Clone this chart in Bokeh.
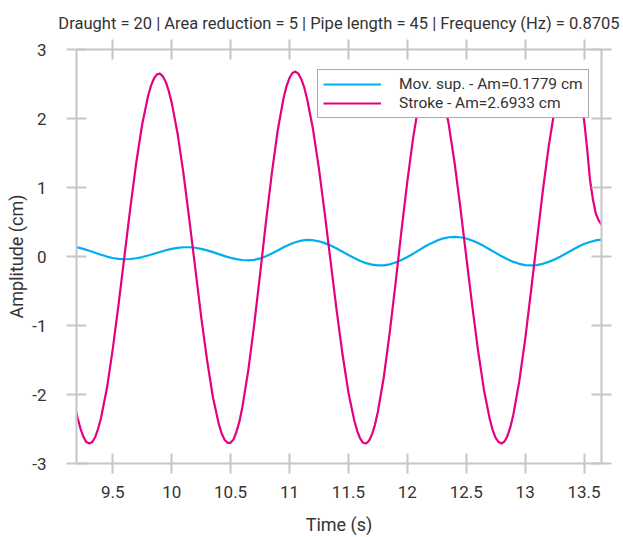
from bokeh.plotting import figure
from bokeh.models import (Range1d, LinearAxis, Legend, LegendItem, FixedTicker,
                          NumeralTickFormatter)
from bokeh.embed import file_html
from bokeh.resources import INLINE

# ---------------- data ----------------
# Mov. sup. series
time_s = [9.19, 9.20, 9.25, 9.30, 9.35, 9.40, 9.45, 9.50, 9.55, 9.60, 9.65, 9.70,
          9.75, 9.80, 9.85, 9.90, 9.95, 10.00, 10.05, 10.10, 10.15, 10.20, 10.25,
          10.30, 10.35, 10.40, 10.45, 10.50, 10.55, 10.60, 10.65, 10.70, 10.75,
          10.80, 10.85, 10.90, 10.95, 11.00, 11.05, 11.10, 11.15, 11.20, 11.25,
          11.30, 11.35, 11.40, 11.45, 11.50, 11.55, 11.60, 11.65, 11.70, 11.75,
          11.80, 11.85, 11.90, 11.95, 12.00, 12.05, 12.10, 12.15, 12.20, 12.25,
          12.30, 12.35, 12.40, 12.45, 12.50, 12.55, 12.60, 12.65, 12.70, 12.75,
          12.80, 12.85, 12.90, 12.95, 13.00, 13.05, 13.10, 13.15, 13.20, 13.25,
          13.30, 13.35, 13.40, 13.45, 13.50, 13.55, 13.60, 13.65]

mov_sup = [0.135, 0.132, 0.111, 0.084, 0.055, 0.026, -0.001, -0.022, -0.035, -0.040,
           -0.036, -0.025, -0.008, 0.015, 0.040, 0.066, 0.090, 0.110, 0.125, 0.134,
           0.134, 0.127, 0.111, 0.089, 0.063, 0.034, 0.006, -0.019, -0.038, -0.051,
           -0.055, -0.048, -0.028, 0.004, 0.044, 0.088, 0.133, 0.174, 0.207, 0.230,
           0.240, 0.236, 0.220, 0.194, 0.158, 0.116, 0.069, 0.022, -0.023, -0.064,
           -0.096, -0.118, -0.129, -0.128, -0.114, -0.088, -0.052, -0.008, 0.041,
           0.093, 0.144, 0.190, 0.230, 0.260, 0.279, 0.285, 0.279, 0.261, 0.233,
           0.195, 0.151, 0.102, 0.053, 0.004, -0.040, -0.078, -0.106, -0.124, -0.130,
           -0.124, -0.106, -0.078, -0.042, 0.001, 0.048, 0.095, 0.140, 0.180, 0.211,
           0.233, 0.244]

# Stroke series (denser sampling around the peaks)
time_stroke = [9.19, 9.20, 9.225, 9.25, 9.275, 9.30, 9.325, 9.35, 9.375, 9.40,
               9.45, 9.50, 9.55, 9.60, 9.65, 9.70, 9.75, 9.80, 9.825, 9.85,
               9.875, 9.90, 9.925, 9.95, 9.975, 10.00, 10.05, 10.10, 10.15, 10.20,
               10.25, 10.30, 10.35, 10.40, 10.425, 10.45, 10.475, 10.50, 10.525, 10.55,
               10.575, 10.60, 10.65, 10.70, 10.75, 10.80, 10.85, 10.90, 10.95, 10.975,
               11.00, 11.025, 11.05, 11.075, 11.10, 11.125, 11.15, 11.20, 11.25, 11.30,
               11.35, 11.40, 11.45, 11.50, 11.55, 11.575, 11.60, 11.625, 11.65, 11.675,
               11.70, 11.725, 11.75, 11.80, 11.85, 11.90, 11.95, 12.00, 12.05, 12.10,
               12.125, 12.15, 12.175, 12.20, 12.225, 12.25, 12.275, 12.30, 12.35, 12.40,
               12.45, 12.50, 12.55, 12.60, 12.65, 12.70, 12.725, 12.75, 12.775, 12.80,
               12.825, 12.85, 12.875, 12.90, 12.95, 13.00, 13.05, 13.10, 13.15, 13.20,
               13.25, 13.30, 13.325, 13.35, 13.375, 13.40, 13.425, 13.45, 13.475, 13.50,
               13.525, 13.55, 13.575, 13.60, 13.625, 13.65]

stroke = [-2.25, -2.33, -2.49, -2.61, -2.69, -2.71, -2.69, -2.62, -2.50, -2.34,
          -1.91, -1.34, -0.68, 0.02, 0.72, 1.37, 1.92, 2.33, 2.48, 2.58,
          2.64, 2.65, 2.61, 2.53, 2.40, 2.23, 1.78, 1.20, 0.53, -0.17,
          -0.87, -1.50, -2.04, -2.43, -2.57, -2.66, -2.70, -2.70, -2.65, -2.54,
          -2.39, -2.18, -1.65, -0.99, -0.26, 0.50, 1.21, 1.83, 2.30, 2.47,
          2.59, 2.66, 2.68, 2.65, 2.57, 2.45, 2.28, 1.84, 1.27, 0.61,
          -0.09, -0.78, -1.42, -1.97, -2.38, -2.53, -2.64, -2.70, -2.71, -2.67,
          -2.58, -2.44, -2.25, -1.75, -1.11, -0.39, 0.37, 1.09, 1.73, 2.24,
          2.42, 2.56, 2.65, 2.69, 2.67, 2.61, 2.51, 2.35, 1.93, 1.37,
          0.71, 0.00, -0.70, -1.36, -1.93, -2.36, -2.52, -2.63, -2.69, -2.71,
          -2.68, -2.60, -2.47, -2.29, -1.81, -1.20, -0.50, 0.23, 0.95, 1.60,
          2.13, 2.49, 2.61, 2.67, 2.69, 2.65, 2.56, 2.42, 2.22, 1.98,
          1.58, 1.12, 0.83, 0.62, 0.52, 0.46]

x_ticks = [9.5, 10.0, 10.5, 11.0, 11.5, 12.0, 12.5, 13.0, 13.5]
y_ticks = [-3, -2, -1, 0, 1, 2, 3]
series_labels = ["Mov. sup. - Am=0.1779 cm", "Stroke - Am=2.6933 cm"]
title_text = "Draught = 20 | Area reduction = 5 | Pipe length = 45 | Frequency (Hz) = 0.8705"
x_label = "Time (s)"
y_label = "Amplitude (cm)"

# ---------------- styling ----------------
FONT = "Roboto"
AXIS_GREY = "#c5c5ca"
TEXT = "#333333"
BLUE = "#00aeef"
PINK = "#e6007e"

p = figure(frame_width=525, frame_height=414,
           min_border_left=76, min_border_right=22,
           min_border_top=49, min_border_bottom=74,
           x_range=Range1d(9.192, 13.648), y_range=Range1d(-3, 3),
           output_backend="svg", toolbar_location=None,
           title=title_text, x_axis_label=x_label, y_axis_label=y_label)

p.background_fill_color = "white"
p.border_fill_color = "white"
p.outline_line_color = None
p.xgrid.visible = False
p.ygrid.visible = False

p.title.text_font = FONT
p.title.text_font_size = "16.5px"
p.title.text_font_style = "normal"
p.title.text_color = TEXT
p.title.align = "center"
p.title.vertical_align = "top"

fmt = NumeralTickFormatter(format="0.[0]")

def style_axis(ax, show_labels):
    ax.axis_line_color = AXIS_GREY
    ax.axis_line_width = 2
    ax.major_tick_line_color = AXIS_GREY
    ax.major_tick_line_width = 2
    ax.major_tick_in = 10
    ax.major_tick_out = 10
    ax.minor_tick_line_color = None
    ax.axis_label_text_font = FONT
    ax.axis_label_text_font_size = "18px"
    ax.axis_label_text_font_style = "normal"
    ax.axis_label_text_color = TEXT
    ax.major_label_text_font = FONT
    ax.major_label_text_color = TEXT if show_labels else None
    ax.major_label_text_font_size = "17px" if show_labels else "1px"

bx = p.xaxis[0]
bx.ticker = FixedTicker(ticks=x_ticks)
bx.formatter = fmt
style_axis(bx, True)
bx.major_label_standoff = 12
bx.axis_label_standoff = 13

ly = p.yaxis[0]
ly.ticker = FixedTicker(ticks=y_ticks)
ly.formatter = fmt
style_axis(ly, True)
ly.major_label_standoff = 20
ly.axis_label_standoff = 2

tx = LinearAxis(ticker=FixedTicker(ticks=x_ticks), formatter=fmt)
style_axis(tx, False)
tx.major_label_standoff = 17
p.add_layout(tx, "above")

ry = LinearAxis(ticker=FixedTicker(ticks=y_ticks), formatter=fmt)
style_axis(ry, False)
ry.major_label_standoff = 0
p.add_layout(ry, "right")

r_blue = p.line(time_s, mov_sup, line_color=BLUE, line_width=2.2, line_join="round")
r_pink = p.line(time_stroke, stroke, line_color=PINK, line_width=2.2, line_join="round")

legend = Legend(items=[LegendItem(label=series_labels[0], renderers=[r_blue]),
                       LegendItem(label=series_labels[1], renderers=[r_pink])],
                location=(241, 345))
legend.border_line_color = "#555555"
legend.border_line_width = 1
legend.background_fill_color = "white"
legend.background_fill_alpha = 1.0
legend.label_text_font = FONT
legend.label_text_font_size = "15.5px"
legend.label_text_color = TEXT
legend.glyph_width = 58
legend.glyph_height = 16
legend.label_height = 16
legend.label_standoff = 18
legend.padding = 5
legend.spacing = 1
legend.margin = 0
p.add_layout(legend)

open("out.html", "w").write(file_html(p, INLINE))
